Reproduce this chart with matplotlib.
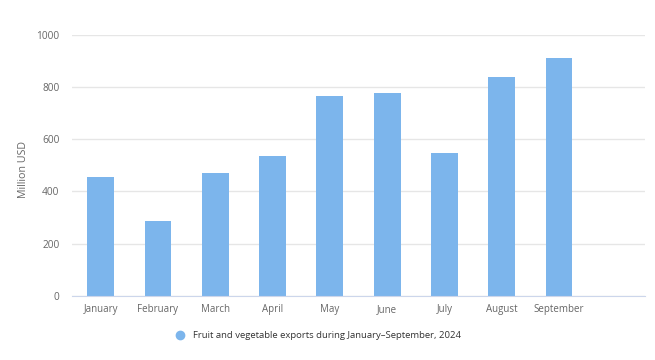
import matplotlib
matplotlib.use("Agg")
import matplotlib.pyplot as plt
from matplotlib.lines import Line2D

categories = ["January", "February", "March", "April", "May", "June",
              "July", "August", "September", ""]
values = [456, 287, 470, 537, 767, 776, 547, 839, 911]
series_name = "Fruit and vegetable exports during January\u2013September, 2024"
y_ticks = [0, 200, 400, 600, 800, 1000]

plt.rcParams['font.family'] = ['Open Sans', 'DejaVu Sans']

fig = plt.figure(figsize=(6.55, 3.6), dpi=100)
ax = fig.add_axes([72/655, 1-296/360, (645-72)/655, (296-34.7)/360])

x = list(range(len(categories)))
ax.bar(x[:len(values)], values, width=0.466, color="#7cb5ec", zorder=3)

ax.set_xlim(-0.5, len(categories) - 0.5)
ax.set_ylim(0, 1000)
ax.set_yticks(y_ticks)
ax.set_yticklabels([str(t) for t in y_ticks])
ax.set_xticks(x)
ax.set_xticklabels(categories)

ax.grid(axis='y', color="#e6e6e6", linewidth=1, zorder=0)
for s in ['top', 'right', 'left']:
    ax.spines[s].set_visible(False)
ax.spines['bottom'].set_color("#ccd6eb")
ax.spines['bottom'].set_zorder(4)

ax.tick_params(axis='y', length=0, pad=9, labelsize=7.3, labelcolor="#666666")
ax.tick_params(axis='x', length=0, pad=6, labelsize=7.0, labelcolor="#666666")

ax.set_ylabel("Million USD", fontsize=7.7, color="#666666")
ax.yaxis.set_label_coords((29-72)/573, (296-170)/261.3)

handle = Line2D([0], [0], marker='o', color='w', markerfacecolor="#7cb5ec",
                markeredgecolor="#7cb5ec", markersize=6, linestyle='None')
fig.legend([handle], [series_name], loc='center', bbox_to_anchor=(316/655, 1-336/360),
           frameon=False, fontsize=6.8, labelcolor="#333333", handletextpad=0.4)

fig.savefig("out.png", dpi=100, facecolor="white")
